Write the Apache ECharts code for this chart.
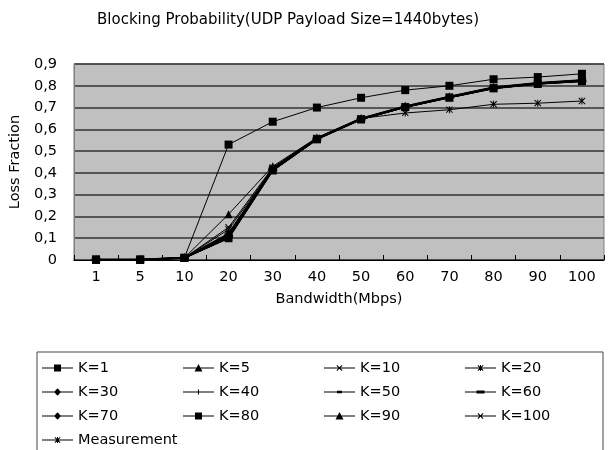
<!DOCTYPE html>
<html><head><meta charset="utf-8">
<script src="https://cdn.jsdelivr.net/npm/echarts@6/dist/echarts.min.js"></script>
<style>html,body{margin:0;padding:0;background:#fff}#c{width:608px;height:450px}</style>
</head><body><div id="c"></div>
<script>
var categories = ['1','5','10','20','30','40','50','60','70','80','90','100'];
var yTicks = [0,0.1,0.2,0.3,0.4,0.5,0.6,0.7,0.8,0.9];
var seriesNames = ['K=1','K=5','K=10','K=20','K=30','K=40','K=50','K=60','K=70','K=80','K=90','K=100','Measurement'];
var K1   = [0.003,0.003,0.01,0.53,0.635,0.70,0.745,0.78,0.80,0.83,0.84,0.855];
var K5   = [0.002,0.002,0.01,0.21,0.43,0.562,0.652,0.708,0.752,0.795,0.815,0.828];
var K10  = [0.001,0.001,0.01,0.15,0.425,0.56,0.65,0.706,0.75,0.793,0.813,0.826];
var K20  = [0.001,0.001,0.01,0.14,0.42,0.558,0.649,0.705,0.749,0.792,0.812,0.825];
var K30  = [0.001,0.001,0.01,0.12,0.418,0.557,0.648,0.704,0.748,0.791,0.811,0.824];
var K40  = [0.001,0.001,0.01,0.115,0.416,0.556,0.648,0.704,0.748,0.79,0.81,0.823];
var K50  = [0.001,0.001,0.01,0.11,0.415,0.556,0.647,0.703,0.747,0.79,0.81,0.823];
var K60  = [0.001,0.001,0.01,0.108,0.414,0.555,0.647,0.703,0.747,0.79,0.81,0.822];
var K70  = [0.001,0.001,0.01,0.105,0.413,0.555,0.647,0.703,0.747,0.789,0.809,0.822];
var K80  = [0.001,0.001,0.01,0.103,0.412,0.555,0.646,0.702,0.746,0.789,0.809,0.822];
var K90  = [0.001,0.001,0.01,0.10,0.412,0.555,0.646,0.702,0.746,0.789,0.809,0.821];
var K100 = [0.001,0.001,0.01,0.10,0.411,0.554,0.646,0.702,0.746,0.788,0.808,0.821];
var Measurement = [0.001,0.001,0.01,0.10,0.42,0.56,0.65,0.675,0.69,0.715,0.72,0.73];

var seriesData = [K1,K5,K10,K20,K30,K40,K50,K60,K70,K80,K90,K100,Measurement];

var SYM = {
  square: 'rect',
  tri: 'triangle',
  diamond: 'diamond',
  x: 'path://M0,1L1,0L5,4L9,0L10,1L6,5L10,9L9,10L5,6L1,10L0,9L4,5Z',
  star: 'path://M0,1L1,0L4.3,3.3V0H5.7V3.3L9,0L10,1L6.2,4.8L10,8.8L9,9.8L5.7,6.5V10H4.3V6.5L1,9.8L0,8.8L3.8,4.8Z',
  plus: 'path://M4.5,0H5.5V4.5H10V5.5H5.5V10H4.5V5.5H0V4.5H4.5Z',
  dash: 'path://M0,0H10V3H0Z'
};
// legend icons: line + marker in a 31x9 box
var LBASE = 'M0,0H0.05V9H0Z M0,4H31V5H0Z ';
var LI = {
  square: 'path://' + LBASE + 'M12,1H19V8H12Z',
  tri: 'path://' + LBASE + 'M15.5,0.5L19.5,8H11.5Z',
  x: 'path://' + LBASE + 'M12.5,2.2L13.2,1.5L15.5,3.8L17.8,1.5L18.5,2.2L16.2,4.5L18.5,6.8L17.8,7.5L15.5,5.2L13.2,7.5L12.5,6.8L14.8,4.5Z',
  star: 'path://' + LBASE + 'M12.5,2.2L13.2,1.5L15.5,3.8L17.8,1.5L18.5,2.2L16.2,4.5L18.5,6.8L17.8,7.5L15.5,5.2L13.2,7.5L12.5,6.8L14.8,4.5Z M15,1.5H16V7.5H15Z',
  diamond: 'path://' + LBASE + 'M15.5,0.8L19,4.5L15.5,8.2L12,4.5Z',
  plus: 'path://' + LBASE + 'M15,2H16V7H15Z',
  dashS: 'path://' + LBASE + 'M13,3.3H18V5.7H13Z',
  dashL: 'path://' + LBASE + 'M11.5,3H19.5V6H11.5Z'
};
var styles = [
  {s:SYM.square, size:8, w:1, li:LI.square},
  {s:SYM.tri, size:8, w:1, li:LI.tri},
  {s:SYM.x, size:7, w:1, li:LI.x},
  {s:SYM.star, size:7, w:1, li:LI.star},
  {s:SYM.diamond, size:8, w:2, li:LI.diamond},
  {s:SYM.plus, size:8, w:1, li:LI.plus},
  {s:SYM.dash, size:[6,2], w:1, li:LI.dashS},
  {s:SYM.dash, size:[9,3], w:1.5, li:LI.dashL},
  {s:SYM.diamond, size:8, w:2, li:LI.diamond},
  {s:SYM.square, size:8, w:1.5, li:LI.square},
  {s:SYM.tri, size:8, w:1.5, li:LI.tri},
  {s:SYM.x, size:7, w:1, li:LI.x},
  {s:SYM.star, size:7, w:1, li:LI.star}
];

var series = seriesNames.map(function(n,i){
  return {
    name:n, type:'line', data:seriesData[i],
    symbol:styles[i].s, symbolSize:styles[i].size, showSymbol:true,
    lineStyle:{color:'#000', width:styles[i].w},
    itemStyle:{color:'#000', borderColor:'#000', borderWidth:0},
    animation:false
  };
});
var legendData = seriesNames.map(function(n,i){ return {name:n, icon:styles[i].li}; });

var FONT = 'DejaVu Sans';
var chart = echarts.init(document.getElementById('c'));
chart.setOption({
  animation:false,
  backgroundColor:'#fff',
  textStyle:{fontFamily:FONT, color:'#000'},
  title:{text:'Blocking Probability(UDP Payload Size=1440bytes)', left:97, top:13, padding:0,
     textStyle:{fontSize:15, fontWeight:'normal', color:'#000', fontFamily:FONT}},
  grid:{left:70, right:4, top:64, bottom:190, show:true, backgroundColor:'#c0c0c0', borderColor:'#808080', borderWidth:1},
  legend:{
    data:legendData, left:37, top:352, width:570, orient:'horizontal',
    itemWidth:31, itemHeight:9, itemGap:8,
    padding:[8,5,14,5], borderColor:'#444', borderWidth:1,
    textStyle:{fontSize:14.5, color:'#000', width:97, lineHeight:16, fontFamily:FONT}
  },
  xAxis:{
    type:'category', data:categories, boundaryGap:true,
    name:'Bandwidth(Mbps)', nameLocation:'middle', nameGap:32,
    nameTextStyle:{fontSize:14.5, color:'#000', fontFamily:FONT},
    axisLine:{lineStyle:{color:'#000', width:1}},
    axisTick:{show:true, inside:true, length:5, lineStyle:{color:'#000'}},
    axisLabel:{fontSize:14.5, color:'#000', margin:10, fontFamily:FONT},
    splitLine:{show:false}
  },
  yAxis:{
    type:'value', min:0, max:0.9, interval:0.1,
    name:'Loss Fraction', nameLocation:'middle', nameRotate:90, nameGap:36,
    nameTextStyle:{fontSize:14.5, color:'#000', fontFamily:FONT},
    axisLine:{show:true, lineStyle:{color:'#808080'}},
    axisTick:{show:false},
    axisLabel:{fontSize:14.5, color:'#000', margin:17, fontFamily:FONT,
      formatter:function(v){ var r = Math.round(v*10)/10; var t = yTicks.indexOf(r) >= 0 ? r : v; return t===0?'0':String(t).replace('.',','); }},
    splitLine:{show:true, lineStyle:{color:'#333', width:1.5}}
  },
  series:series
});
</script></body></html>
